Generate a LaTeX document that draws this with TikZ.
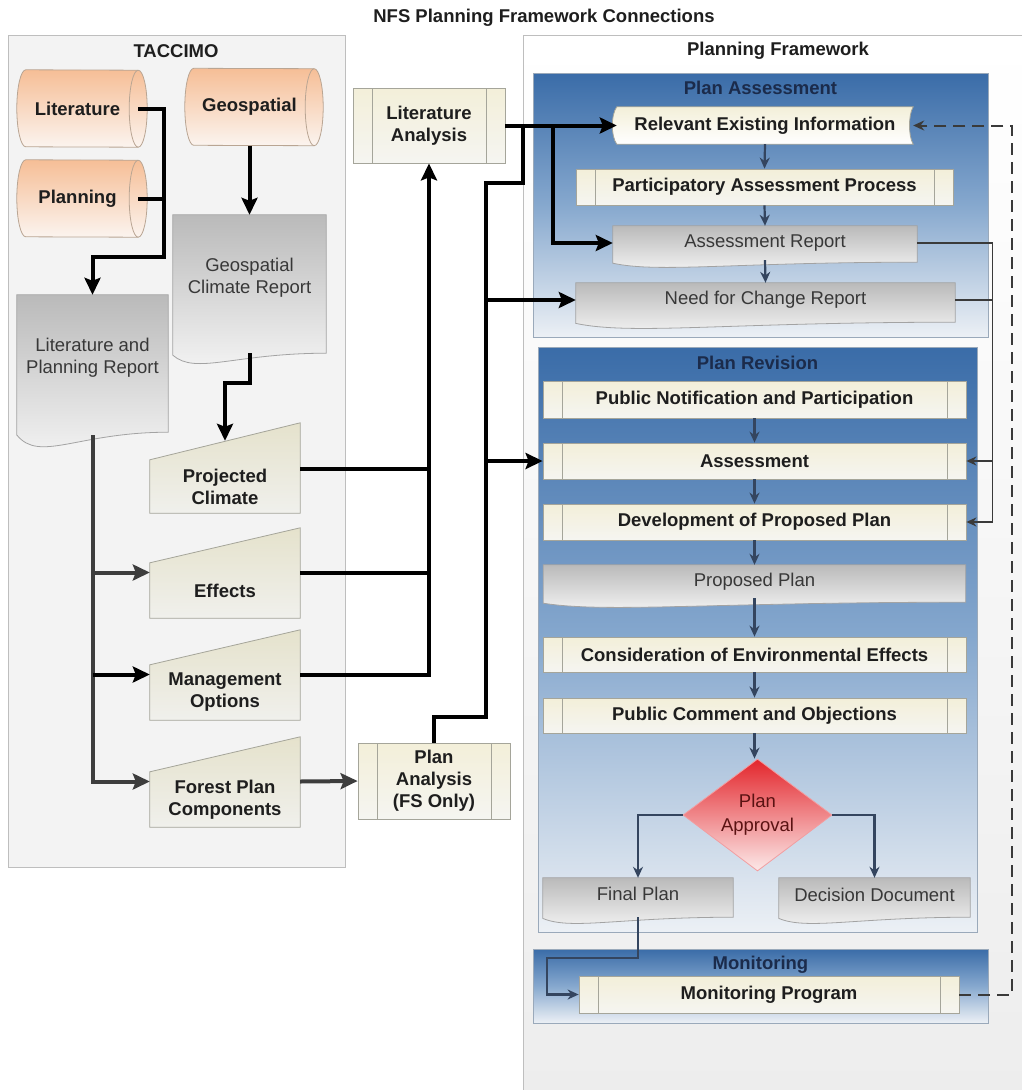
\documentclass[tikz,border=0pt]{standalone}
\usepackage{fontspec}
\setmainfont{Liberation Sans}
\usetikzlibrary{shapes.geometric,arrows.meta,calc}
\pgfdeclarelayer{background}
\pgfsetlayers{background,main}
\definecolor{txt}{HTML}{1E1E1E}
\definecolor{doctext}{HTML}{383838}
\definecolor{navy}{HTML}{1B2B4B}
\definecolor{appr}{HTML}{5A1212}
\definecolor{panelline}{HTML}{BEBEBE}
\definecolor{panelbot}{HTML}{EDEDED}
\definecolor{taccfill}{HTML}{F3F3F3}
\definecolor{blueA}{HTML}{3A6CA8}
\definecolor{blueB}{HTML}{86A8CE}
\definecolor{blueC}{HTML}{ECF0F5}
\definecolor{blueline}{HTML}{9AA9BA}
\definecolor{creamA}{HTML}{F3EFD9}
\definecolor{creamB}{HTML}{F5F5F1}
\definecolor{procline}{HTML}{A5A59A}
\definecolor{trapA}{HTML}{E5E2CC}
\definecolor{trapB}{HTML}{F0F0EC}
\definecolor{docA}{HTML}{BABABA}
\definecolor{docB}{HTML}{F5F5F5}
\definecolor{docline}{HTML}{A3A3A3}
\definecolor{orA}{HTML}{F6BE96}
\definecolor{orB}{HTML}{FBF4EF}
\definecolor{cylline}{HTML}{B9A593}
\definecolor{redA}{HTML}{E3262C}
\definecolor{redB}{HTML}{FCE9E9}
\definecolor{slate}{HTML}{34455F}
\definecolor{linegray}{HTML}{3D3D3D}
\definecolor{darkline}{HTML}{3A3A3A}
\begin{document}
\begin{tikzpicture}
		[x=1pt,y=-1pt,
		every node/.style={font=\fontsize{18.5}{22}\selectfont\bfseries,text=txt,align=center,inner sep=0pt},
		panel/.style={draw=panelline,line width=1pt},
		bluepanel/.style={draw=blueline,line width=1pt,top color=blueA,bottom color=blueC,middle color=blueB},
		ptitle/.style={text=navy},
		proc/.style={draw=procline,line width=0.8pt,top color=creamA,bottom color=creamB,minimum height=36pt,
			path picture={\draw[procline,line width=0.8pt]
				([xshift=19pt]path picture bounding box.north west) -- ([xshift=19pt]path picture bounding box.south west)
				([xshift=-19pt]path picture bounding box.north east) -- ([xshift=-19pt]path picture bounding box.south east);}},
		doc/.style 2 args={font=\fontsize{18.5}{22}\selectfont,text=doctext,
			append after command={\pgfextra{\begin{pgfonlayer}{background}
				\shadedraw[draw=docline,line width=0.8pt,top color=docA,bottom color=docB]
					(\tikzlastnode.north west) -- (\tikzlastnode.north east) -- ($(\tikzlastnode.south east)+(0,#2)$)
					.. controls ($(\tikzlastnode.south east)!0.6!(\tikzlastnode.south west)+(0,#2)$)
					and ($(\tikzlastnode.south east)!0.85!(\tikzlastnode.south west)+(0,{#2+2.2*#1})$)
					.. ($(\tikzlastnode.south west)+(0,{#2+0.2*#1})$) -- cycle;
			\end{pgfonlayer}}}},
		manin/.style={minimum width=150pt,minimum height=55pt,
			append after command={\pgfextra{\begin{pgfonlayer}{background}
				\shadedraw[draw=procline,line width=0.8pt,top color=trapA,bottom color=trapB]
					(\tikzlastnode.south west) -- (\tikzlastnode.south east)
					-- ([yshift=#1]\tikzlastnode.north east) -- (\tikzlastnode.north west) -- cycle;
			\end{pgfonlayer}}}},
		store/.style={minimum width=#1,minimum height=77pt,
			append after command={\pgfextra{\begin{pgfonlayer}{background}
				\shadedraw[draw=cylline,line width=0.8pt,top color=orA,bottom color=orB]
					([xshift=9pt]\tikzlastnode.north west) arc[start angle=90,end angle=270,x radius=9pt,y radius=38.5pt]
					-- (\tikzlastnode.south east) arc[start angle=-90,end angle=90,x radius=9pt,y radius=38.5pt] -- cycle;
				\draw[cylline,line width=0.8pt] (\tikzlastnode.south east)
					arc[start angle=270,end angle=90,x radius=9pt,y radius=38.5pt];
			\end{pgfonlayer}}}},
		stored/.style={minimum width=296pt,minimum height=37pt,
			append after command={\pgfextra{\begin{pgfonlayer}{background}
				\shadedraw[draw=procline,line width=0.8pt,top color=creamA,bottom color=white]
					(\tikzlastnode.north west) .. controls +(-6,8) and +(-6,-8) .. (\tikzlastnode.south west)
					-- (\tikzlastnode.south east) .. controls +(-5,-8) and +(-5,8) .. (\tikzlastnode.north east) -- cycle;
			\end{pgfonlayer}}}},
		decision/.style={diamond,draw=redA!45,line width=0.8pt,top color=redA,bottom color=redB,
			minimum width=149pt,minimum height=112pt,aspect=1.33,font=\fontsize{18.5}{24}\selectfont,text=appr},
		wire/.style={line width=4pt},
		link/.style={wire,-{Stealth[length=17pt,width=16pt,inset=3pt]}},
		glink/.style={link,draw=linegray},
		flow/.style={draw=slate,line width=2.2pt,-{Stealth[length=11pt,width=10pt]}},
		feed/.style={draw=darkline,line width=1.6pt},
		back/.style={draw=darkline,line width=2pt,dash pattern=on 12pt off 7pt,-{Stealth[length=11pt,width=10pt]}}]
		\useasboundingbox (0,0) rectangle (1021,1090);
		% panels
		\begin{pgfonlayer}{background}
			\draw[panel,fill=taccfill] (8,35) rectangle (345,867);
			\draw[panel,top color=white,bottom color=panelbot] (523,35) rectangle (1030,1100);
			\draw[bluepanel] (533,73) rectangle (988,337);
			\draw[bluepanel] (538,347) rectangle (977,932);
			\draw[bluepanel] (533,949) rectangle (988,1023);
		\end{pgfonlayer}
		\node (title) at (544,18) {NFS Planning Framework Connections};
		\node (ttac) at (176,51) {TACCIMO};
		\node (tpf) at (778,51) {Planning Framework};
		\node[ptitle] (tpa) at (760.5,88) {Plan Assessment};
		\node[ptitle] (tpr) at (757.5,363) {Plan Revision};
		\node[ptitle] (tmon) at (760.5,965) {Monitoring};
		% TACCIMO
		\node[store=121pt] (lit) at (77.5,108.5) {Literature};
		\node[store=121pt] (plan) at (77.5,198.5) {Planning};
		\node[store=129pt] (geo) at (249.5,107) {Geospatial};
		\node[doc={14}{11},minimum width=151pt,minimum height=126pt] (lpr) at (92.5,358) {Literature and\\Planning Report};
		\node[doc={10}{12},minimum width=153pt,minimum height=126pt] (gcr) at (249.5,278) {Geospatial\\Climate Report};
		\node[manin=37pt,minimum height=53pt] (pc) at (225,486.5) {Projected\\Climate};
		\node[manin=35pt] (eff) at (225,590.5) {Effects};
		\node[manin=35pt] (mo) at (225,692.5) {Management\\Options};
		\node[manin=35pt] (fpc) at (225,799.5) {Forest Plan\\Components};
		\node[proc,minimum width=152pt,minimum height=75pt] (la) at (429,125.5) {Literature\\Analysis};
		\node[proc,minimum width=152pt,minimum height=76pt] (pa) at (434,781) {Plan\\Analysis\\(FS Only)};
		% Planning framework
		\node[stored] (rei) at (765,125.5) {Relevant Existing Information};
		\node[proc,minimum width=377pt] (pap) at (764.5,187) {Participatory Assessment Process};
		\node[doc={5}{2},minimum width=304pt,minimum height=34pt] (ar) at (765,243) {Assessment Report};
		\node[doc={6}{5},minimum width=379pt,minimum height=34pt] (nfc) at (765.5,300) {Need for Change Report};
		\node[proc,minimum width=423pt,minimum height=37pt] (pnp) at (754.5,399.5) {Public Notification and Participation};
		\node[proc,minimum width=423pt] (asm) at (754.5,461) {Assessment};
		\node[proc,minimum width=423pt] (dpp) at (754.5,522) {Development of Proposed Plan};
		\node[doc={5}{4},minimum width=422pt,minimum height=33pt] (pp) at (754.5,581.5) {Proposed Plan};
		\node[proc,minimum width=423pt,minimum height=35pt] (cee) at (754.5,654.5) {Consideration of Environmental Effects};
		\node[proc,minimum width=423pt,minimum height=35pt] (pco) at (754.5,715.5) {Public Comment and Objections};
		\node[decision] (dec) at (757.5,815) {Plan\\Approval};
		\node[doc={6}{8},minimum width=190pt,minimum height=31pt] (fp) at (638,893.5) {Final Plan};
		\node[doc={6}{5},minimum width=191pt,minimum height=34pt] (dd) at (874.5,895) {Decision Document};
		\node[proc,minimum width=380pt,minimum height=37pt] (mp) at (769,994.5) {Monitoring Program};
		% TACCIMO links
		\draw[link] (lit.east) -- ++(26,0) |- ([yshift=38pt]lpr.north) -- (lpr.north);
		\draw[wire] (plan.east) -- ++(26,0);
		\draw[link] (geo.south) -- (gcr.north);
		\draw[link] ([yshift=-12pt]gcr.south) -- ++(0,30) -| ([yshift=19pt]pc.north);
		\draw[glink] ([yshift=-14pt]lpr.south) |- ([yshift=18pt]fpc.west);
		\draw[glink] ([yshift=18pt]eff.west -| lpr.south) -- ([yshift=18pt]eff.west);
		\draw[link] ([yshift=18pt]mo.west -| lpr.south) -- ([yshift=18pt]mo.west);
		\draw[link] ([yshift=18pt]mo.east) -| (la.south);
		\foreach \n in {pc,eff}
			\draw[wire] ([yshift=18pt]\n.east) -- ([yshift=18pt]\n.east -| la.south);
		\draw[glink] ([yshift=18pt]fpc.east) -- (pa.west);
		% into the framework
		\coordinate (jn) at ([xshift=18pt]la.east);
		\coordinate (pv) at (486,183);
		\draw[wire] (pa.north) -- ++(0,-26) -| (pv) -| (jn);
		\draw[link] (asm.west -| pv) -- (asm.west);
		\draw[link] (nfc.west -| pv) -- (nfc.west);
		\draw[link] (la.east) -- (rei.west);
		\draw[link] ([xshift=48pt]la.east) |- (ar.west);
		% inside the framework
		\foreach \a/\b in {rei/pap,pap/ar,ar/nfc,pnp/asm,asm/dpp,dpp/pp,pp/cee,cee/pco}
			\draw[flow] (\a.south) -- (\b.north);
		\draw[flow] (pco.south) -- (pco.south |- dec.north);
		\draw[flow] (dec.west) -| (fp.north);
		\draw[flow] (dec.east) -| (dd.north);
		\draw[flow] ([yshift=-8pt]fp.south) -- ++(0,41) -| ([xshift=-32pt]mp.west) -- (mp.west);
		\coordinate (bus) at ([xshift=26pt]dpp.east);
		\draw[feed,-{Stealth[length=10pt,width=9pt]}] (ar.east) -| (bus) -- (dpp.east);
		\draw[feed] (nfc.east) -- (nfc.east -| bus);
		\draw[feed,-{Stealth[length=10pt,width=9pt]}] (asm.east -| bus) -- (asm.east);
		\draw[back] (mp.east) -- ++(53,0) |- (rei.east);
	\end{tikzpicture}
\end{document}
